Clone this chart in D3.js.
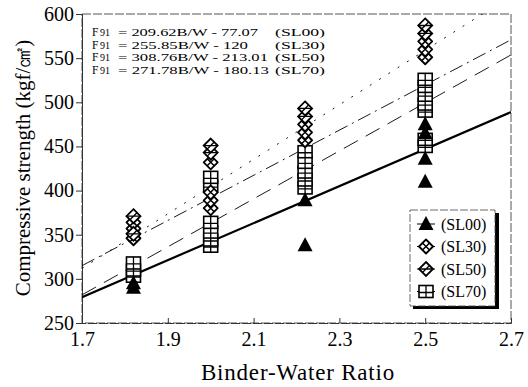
<!DOCTYPE html>
<html>
<head>
<meta charset="utf-8">
<script src="https://cdn.jsdelivr.net/npm/d3@7"></script>
<style>
  body { margin: 0; background: #fff; }
  text { font-family: "Liberation Serif", "Times New Roman", serif; fill: #000; }
</style>
</head>
<body>
<div id="chart"></div>
<script>
// chart values
var xTicks = [1.7, 1.9, 2.1, 2.3, 2.5, 2.7];
var yTicks = [250, 300, 350, 400, 450, 500, 550, 600];
var seriesNames = ["(SL00)", "(SL30)", "(SL50)", "(SL70)"];
var slopes = [209.62, 255.85, 308.76, 271.78];
var intercepts = [-77.07, -120, -213.01, -180.13];
var eqText = ["= 209.62B/W - 77.07", "= 255.85B/W - 120", "= 308.76B/W - 213.01", "= 271.78B/W - 180.13"];
var eqWidths = [140, 130, 150, 151];

var sl00 = [[1.82, 290], [1.82, 295], [2.22, 389], [2.22, 338], [2.5, 410], [2.5, 436], [2.5, 465], [2.5, 475]];
var sl30 = [[1.82, 346], [1.82, 357], [1.82, 364], [2.0, 380], [2.0, 389], [2.0, 398], [2.0, 432],
            [2.22, 457], [2.22, 466], [2.22, 475], [2.5, 551], [2.5, 560], [2.5, 569]];
var sl50 = [[1.82, 351], [1.82, 371], [2.0, 443], [2.0, 451], [2.22, 484], [2.22, 493],
            [2.5, 578], [2.5, 587]];
var sl70 = [[1.82, 303], [1.82, 310], [1.82, 318], [2.0, 337], [2.0, 344], [2.0, 353], [2.0, 364],
            [2.0, 405], [2.0, 415], [2.22, 403], [2.22, 412], [2.22, 421], [2.22, 432], [2.22, 444],
            [2.5, 450], [2.5, 458], [2.5, 490], [2.5, 498], [2.5, 508], [2.5, 518], [2.5, 526]];

var svgWidth = 528, svgHeight = 387;
var margin = {top: 14, right: 17, bottom: 64, left: 82};
var width = svgWidth - margin.left - margin.right;
var height = svgHeight - margin.top - margin.bottom;

var svg = d3.select("#chart").append("svg")
  .attr("width", svgWidth)
  .attr("height", svgHeight);

var g = svg.append("g")
  .attr("transform", `translate(${margin.left}, ${margin.top})`);

var x = d3.scaleLinear().domain([1.7, 2.7]).range([0, width]);
var y = d3.scaleLinear().domain([250, 600]).range([height, 0]);

g.append("clipPath").attr("id", "plotClip")
  .append("rect").attr("width", width).attr("height", height);

// frame (scanned look: thin broken lines)
g.append("rect")
  .attr("width", width).attr("height", height)
  .attr("fill", "none")
  .attr("stroke", "#555")
  .attr("stroke-width", 1)
  .attr("stroke-dasharray", "9,2");

// y axis
var yAxis = g.append("g")
  .call(d3.axisLeft(y).tickValues(yTicks).tickSize(6).tickPadding(2).tickFormat(d3.format("d")));
yAxis.select(".domain").attr("stroke", "#333");
yAxis.selectAll("line").attr("stroke", "#333");
yAxis.selectAll("text").attr("font-size", "20px");

// x axis, ticks point inward
var xAxis = g.append("g")
  .attr("transform", "translate(0," + height + ")")
  .call(d3.axisBottom(x).tickValues(xTicks).tickSize(-5).tickPadding(9).tickFormat(d3.format(".1f")));
xAxis.select(".domain").attr("stroke", "#333").attr("stroke-dasharray", "9,2");
xAxis.selectAll("line").attr("stroke", "#333");
xAxis.selectAll("text").attr("font-size", "20px");

// regression lines
var lineStyles = [
  {w: 2.2, dash: null},
  {w: 0.9, dash: "14,5,2,5"},
  {w: 0.9, dash: "2,9"},
  {w: 0.9, dash: "16,9"}
];
var lines = g.append("g").attr("clip-path", "url(#plotClip)");
slopes.forEach(function(s, i) {
  lines.append("line")
    .attr("x1", x(1.7)).attr("y1", y(s * 1.7 + intercepts[i]))
    .attr("x2", x(2.7)).attr("y2", y(s * 2.7 + intercepts[i]))
    .attr("stroke", "#000")
    .attr("stroke-width", lineStyles[i].w)
    .attr("stroke-dasharray", lineStyles[i].dash);
});

// marker drawers
function triangle(sel) {
  sel.append("path").attr("d", "M0,-8 L7.5,6 L-7.5,6 Z").attr("fill", "#000");
}
function crossCircle(sel) {
  sel.append("path").attr("d", "M0,-7 L7,0 L0,7 L-7,0 Z")
    .attr("fill", "#fff").attr("stroke", "#000").attr("stroke-width", 1.8).attr("stroke-linejoin", "round");
  sel.append("path").attr("d", "M-3.5,-3.5 L3.5,3.5 M3.5,-3.5 L-3.5,3.5")
    .attr("stroke", "#000").attr("stroke-width", 1.5);
}
function crossDiamond(sel) {
  sel.append("path").attr("d", "M0,-7 L7,0 L0,7 L-7,0 Z")
    .attr("fill", "#fff").attr("stroke", "#000").attr("stroke-width", 1.8);
  sel.append("path").attr("d", "M-3.5,3.5 L3.5,-3.5 M-7,0 L7,0")
    .attr("stroke", "#000").attr("stroke-width", 1.3);
}
function crossSquare(sel) {
  sel.append("rect").attr("x", -7).attr("y", -6).attr("width", 14).attr("height", 12)
    .attr("fill", "#fff").attr("stroke", "#000").attr("stroke-width", 1.6);
  sel.append("path").attr("d", "M0,-6 L0,6 M-7,1 L7,1")
    .attr("stroke", "#000").attr("stroke-width", 1.3);
}
var drawers = [triangle, crossCircle, crossDiamond, crossSquare];
var allSeries = [sl00, sl30, sl50, sl70];

var pts = g.append("g");
[3, 1, 2, 0].forEach(function(i) {
  pts.append("g").selectAll("g")
    .data(allSeries[i])
    .enter()
    .append("g")
    .attr("transform", function(d) { return "translate(" + x(d[0]) + "," + y(d[1]) + ")"; })
    .each(function() { drawers[i](d3.select(this)); });
});

// equations block: F, subscript 91, the fit, and the series tag
var eq = g.append("g");
eqText.forEach(function(t, i) {
  var by = 22 + i * 12.6;
  eq.append("text").attr("x", 10).attr("y", by).attr("font-size", "11.5px").text("F");
  eq.append("text").attr("x", 18).attr("y", by).attr("font-size", "10px").text("91");
  eq.append("text")
    .attr("x", 36).attr("y", by)
    .attr("font-size", "11px")
    .attr("textLength", eqWidths[i])
    .attr("lengthAdjust", "spacingAndGlyphs")
    .text(t);
  eq.append("text")
    .attr("x", 193).attr("y", by)
    .attr("font-size", "11px")
    .attr("textLength", 50)
    .attr("lengthAdjust", "spacingAndGlyphs")
    .text(seriesNames[i]);
});

// legend with drop shadow
var lg = svg.append("g").attr("transform", "translate(410,210)");
lg.append("rect").attr("x", 3).attr("y", 3).attr("width", 86).attr("height", 96).attr("fill", "#000");
lg.append("rect").attr("width", 85).attr("height", 96)
  .attr("fill", "#fff").attr("stroke", "#444").attr("stroke-width", 0.8).attr("stroke-dasharray", "8,2");
seriesNames.forEach(function(name, i) {
  var row = lg.append("g").attr("transform", "translate(16," + (14 + i * 22.5) + ")");
  row.append("line").attr("x1", -9).attr("x2", 9).attr("stroke", "#000").attr("stroke-width", 1);
  drawers[i](row);
  row.append("text").attr("x", 15).attr("dy", "0.35em").attr("font-size", "16px").text(name);
});

// axis titles
svg.append("text")
  .attr("x", 298).attr("y", 380)
  .attr("text-anchor", "middle")
  .attr("font-size", "23px")
  .attr("letter-spacing", "0.8px")
  .text("Binder-Water Ratio");

svg.append("text")
  .attr("transform", "translate(30,168) rotate(-90)")
  .attr("text-anchor", "middle")
  .attr("font-size", "21px")
  .text("Compressive strength (kgf/㎠)");
</script>
</body>
</html>
